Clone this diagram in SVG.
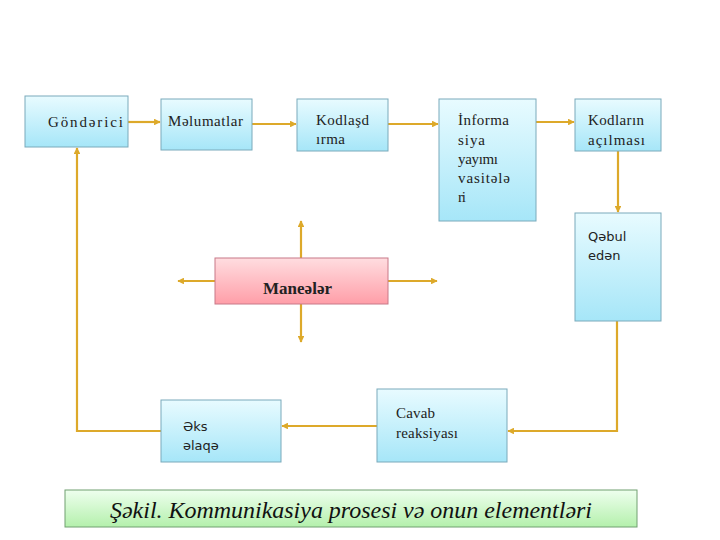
<svg xmlns="http://www.w3.org/2000/svg" width="720" height="540" viewBox="0 0 720 540">
<defs>
<linearGradient id="gb" x1="0" y1="0" x2="0" y2="1"><stop offset="0" stop-color="#E8FBFF"/><stop offset="1" stop-color="#A6E6F8"/></linearGradient>
<linearGradient id="gp" x1="0" y1="0" x2="0" y2="1"><stop offset="0" stop-color="#FFDDE0"/><stop offset="1" stop-color="#FF9EA8"/></linearGradient>
<linearGradient id="gg" x1="0" y1="0" x2="0" y2="1"><stop offset="0" stop-color="#EEFFEE"/><stop offset="1" stop-color="#B4F0AC"/></linearGradient>
<marker id="ar" viewBox="0 0 10 10" refX="9" refY="5" markerWidth="3" markerHeight="3" orient="auto" markerUnits="strokeWidth"><path d="M0,0 L10,5 L0,10 z" fill="#DDA92A"/></marker>
</defs>
<style>
.b{fill:url(#gb);stroke:#7AAABB;stroke-width:1}
.c{fill:none;stroke:#DDA92A;stroke-width:2.2}
</style>
<rect width="720" height="540" fill="#fff"/>
<g id="connectors">
<line class="c" x1="128" y1="122" x2="160" y2="122" marker-end="url(#ar)"/>
<line class="c" x1="252" y1="124" x2="296" y2="124" marker-end="url(#ar)"/>
<line class="c" x1="388" y1="124" x2="438" y2="124" marker-end="url(#ar)"/>
<line class="c" x1="536" y1="122" x2="574" y2="122" marker-end="url(#ar)"/>
<line class="c" x1="618" y1="151" x2="618" y2="212" marker-end="url(#ar)"/>
<polyline class="c" points="617,321 617,431 508,431" marker-end="url(#ar)"/>
<line class="c" x1="377" y1="426" x2="282" y2="426" marker-end="url(#ar)"/>
<polyline class="c" points="161,431 77,431 77,148" marker-end="url(#ar)"/>
<line class="c" x1="301" y1="258" x2="301" y2="221" marker-end="url(#ar)"/>
<line class="c" x1="301" y1="304" x2="301" y2="342" marker-end="url(#ar)"/>
<line class="c" x1="215" y1="281" x2="178" y2="281" marker-end="url(#ar)"/>
<line class="c" x1="388" y1="281" x2="437" y2="281" marker-end="url(#ar)"/>
</g>
<g font-family="Liberation Serif, serif" font-size="15" fill="#222">
<g id="gonderici"><rect class="b" x="25" y="96" width="103" height="51"/><text x="48" y="127" textLength="75">Göndərici</text></g>
<g id="melumatlar"><rect class="b" x="161" y="99" width="91" height="51"/><text x="168" y="126" textLength="75">Məlumatlar</text></g>
<g id="kodlasdirma"><rect class="b" x="297" y="99" width="91" height="52"/><text x="316" y="125" textLength="53">Kodlaşd</text><text x="316" y="144" textLength="29">ırma</text></g>
<g id="informasiya"><rect class="b" x="439" y="99" width="97" height="122"/><text x="458" y="125" textLength="51">İnforma</text><text x="458" y="145" textLength="27">siya</text><text x="458" y="164" textLength="40">yayımı</text><text x="458" y="183" textLength="52">vasitələ</text><text x="458" y="202" textLength="8">ri</text></g>
<g id="kodlarin"><rect class="b" x="575" y="99" width="86" height="52"/><text x="588" y="125" textLength="56">Kodların</text><text x="588" y="145" textLength="57">açılması</text></g>
<g id="qebul"><rect class="b" x="575" y="213" width="86" height="108"/><text x="588" y="241" font-family="DejaVu Sans, sans-serif" font-size="13">Qəbul</text><text x="588" y="260" font-family="DejaVu Sans, sans-serif" font-size="13">edən</text></g>
<g id="maneeler"><rect x="215" y="258" width="173" height="46" fill="url(#gp)" stroke="#C87888"/><text x="263" y="294" font-size="17" font-weight="bold" textLength="69">Maneələr</text></g>
<g id="eks"><rect class="b" x="161" y="400" width="120" height="62"/><text x="183" y="431" font-family="DejaVu Sans, sans-serif" font-size="13">Əks</text><text x="183" y="450" font-family="DejaVu Sans, sans-serif" font-size="13">əlaqə</text></g>
<g id="cavab"><rect class="b" x="377" y="389" width="130" height="73"/><text x="396" y="418" textLength="39">Cavab</text><text x="396" y="438" textLength="62">reaksiyası</text></g>
<g id="caption"><rect x="65" y="490" width="572" height="37" fill="url(#gg)" stroke="#70A070"/><text x="110" y="518" font-size="24" font-style="italic" fill="#111" textLength="482">Şəkil. Kommunikasiya prosesi və onun elementləri</text></g>
</g>
</svg>
